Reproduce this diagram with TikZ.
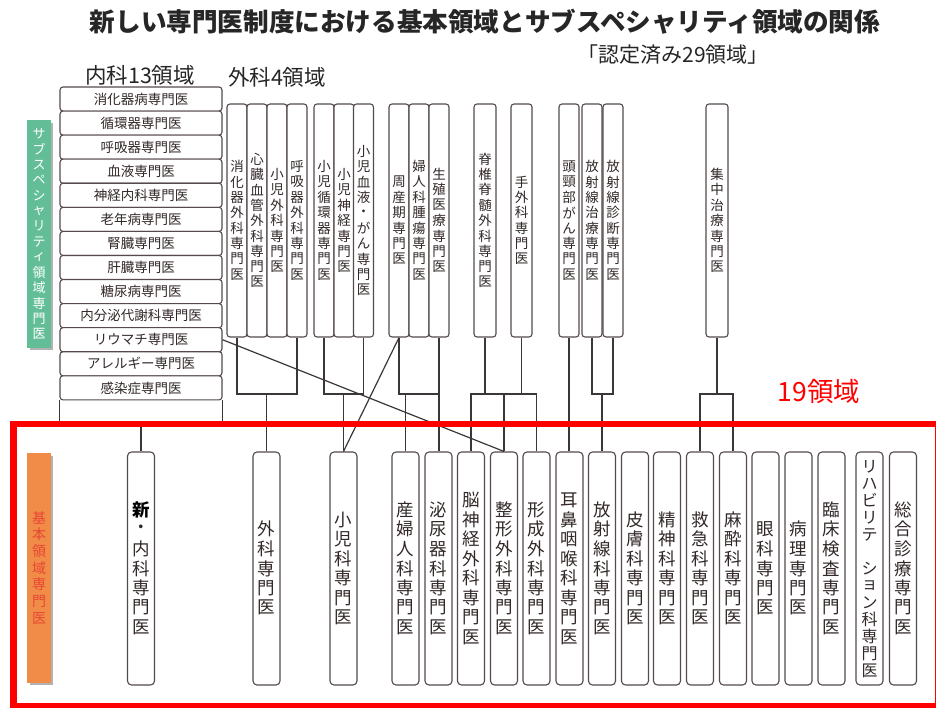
\documentclass[tikz,border=0pt]{standalone}
\usepackage{fontspec}
\setmainfont{Noto Sans CJK JP}
\definecolor{linec}{RGB}{60,55,55}
\definecolor{boxc}{RGB}{85,75,75}
\definecolor{txt}{RGB}{50,40,40}
\definecolor{subgreen}{RGB}{99,190,152}
\definecolor{baseorange}{RGB}{240,140,72}
\definecolor{basered}{RGB}{232,70,50}
\definecolor{framered}{RGB}{255,0,0}
\makeatletter
\newlength\vt@pitch
\def\vt@stop{\vt@stop}
\newcommand\vt[2][15.4pt]{\vbox{\offinterlineskip\setlength\vt@pitch{#1}\vt@loop#2\vt@stop}}
\def\vt@loop#1{%
  \ifx#1\vt@stop\else
    \hbox to 1em{\hss\vbox to\vt@pitch{\vss\hbox{#1}\vss}\hss}%
    \expandafter\vt@loop
  \fi}
\makeatother
\begin{document}
\begin{tikzpicture}[x=1pt,y=-1pt,
  conn/.style={draw=linec, line width=1.2pt},
  rowbox/.style={draw=boxc, line width=1.1pt, rounded corners=3pt, fill=white, minimum width=162pt, minimum height=24.1pt, inner sep=0pt, text=txt, font=\fontsize{13.5}{14}\selectfont},
  topbox/.style={draw=boxc, line width=1.1pt, rounded corners=3pt, fill=white, minimum width=20pt, minimum height=233pt, inner sep=0pt, text=txt, font=\fontsize{13.5}{14}\selectfont},
  botbox/.style={draw=boxc, line width=1.1pt, rounded corners=4pt, fill=white, minimum width=27pt, minimum height=233pt, inner sep=0pt, text=txt, font=\fontsize{17.5}{18}\selectfont},
  lab/.style={inner sep=0pt, text=black!85, font=\fontsize{21.5}{23}\selectfont}
]
\useasboundingbox (0,0) rectangle (936,708);
\fill[white] (0,0) rectangle (936,708);

% titles
\node[inner sep=0pt, text=black!85, font=\fontsize{25.6}{27}\selectfont\bfseries] (title) at (485,22) {新しい専門医制度における基本領域とサブスペシャリティ領域の関係};
\node[lab, font=\fontsize{21}{23}\selectfont] (nintei) at (673,55) {「認定済み29領域」};
\node[lab] (naika) at (140,75) {内科13領域};
\node[lab] (geka) at (277,77) {外科4領域};
\node[inner sep=0pt, text=framered, font=\fontsize{26.5}{28}\selectfont] (n19) at (819,391) {19領域};

% side labels
\fill[black!30] (30,123) rectangle (53,350);
\node[fill=subgreen, minimum width=24pt, minimum height=228pt, inner sep=0pt, text=white, font=\fontsize{13}{14}\selectfont] (sublab) at (39,234) {\vt[15.4pt]{サブスペシャリティ領域専門医}};
\fill[black!30] (30,456) rectangle (53,685);
\node[fill=baseorange, minimum width=24pt, minimum height=230pt, inner sep=0pt, text=basered, font=\fontsize{14}{15}\selectfont] (baselab) at (39,568) {\vt[16.7pt]{基本領域専門医}};

\coordinate (Y) at (0,394);
\coordinate (R) at (0,424);

% left list rows
\foreach \i/\t in {1/消化器病専門医,2/循環器専門医,3/呼吸器専門医,4/血液専門医,5/神経内科専門医,6/老年病専門医,7/腎臓専門医,8/肝臓専門医,9/糖尿病専門医,10/内分泌代謝科専門医,11/リウマチ専門医,12/アレルギー専門医,13/感染症専門医}
  \node[rowbox] (r\i) at (141,{87+24.07*(\i-0.5)}) {\t};

% top boxes
\newcommand\tb[4][20pt]{\node[topbox, minimum width=#1] (#2) at (#3,220.5) {\vt[15.4pt]{#4}};}
\tb{t1}{237}{消化器外科専門医}
\tb{t2}{257}{心臓血管外科専門医}
\tb{t3}{277}{小児外科専門医}
\tb{t4}{297}{呼吸器外科専門医}
\tb{t5}{324}{小児循環器専門医}
\tb{t6}{344}{小児神経専門医}
\tb{t7}{363.5}{小児血液・がん専門医}
\tb{t8}{399}{周産期専門医}
\tb{t9}{419}{婦人科腫瘍専門医}
\tb{t10}{439}{生殖医療専門医}
\tb[22pt]{t11}{485}{脊椎脊髄外科専門医}
\tb[21pt]{t12}{521.5}{手外科専門医}
\tb{t13}{569}{頭頸部がん専門医}
\tb{t14}{592}{放射線治療専門医}
\tb{t15}{613}{放射線診断専門医}
\tb[22pt]{t16}{717}{集中治療専門医}

% bottom boxes
\newcommand\bb[3]{\node[botbox] (#1) at (#2,568.5) {\vt[19.6pt]{#3}};}
\bb{b1}{141}{{\bfseries\color{black}新}・内科専門医}
\bb{b2}{266.5}{外科専門医}
\bb{b3}{343.5}{小児科専門医}
\bb{b4}{405.5}{産婦人科専門医}
\bb{b5}{438.5}{泌尿器科専門医}
\bb{b6}{471}{脳神経外科専門医}
\bb{b7}{504}{整形外科専門医}
\bb{b8}{536.5}{形成外科専門医}
\bb{b9}{569.5}{耳鼻咽喉科専門医}
\bb{b10}{602}{放射線科専門医}
\bb{b11}{635}{皮膚科専門医}
\bb{b12}{667}{精神科専門医}
\bb{b13}{700}{救急科専門医}
\bb{b14}{733}{麻酔科専門医}
\bb{b15}{765.5}{眼科専門医}
\bb{b16}{798.5}{病理専門医}
\bb{b17}{831.5}{臨床検査専門医}
\node[botbox, font=\fontsize{16}{17}\selectfont] (b18) at (869.5,568.5) {\vt[17pt]{リハビリテ　ション科専門医}};
\bb{b19}{903}{総合診療専門医}

% connectors
\draw[conn] (r13.south west) -- (r13.south west |- R);
\draw[conn] (r13.south east) -- (r13.south east |- R);
\draw[conn] (b1.north |- R) -- (b1.north);
\draw[conn] (t1.south) |- (t4.south |- Y) -- (t4.south);
\draw[conn] (b2.north |- Y) -- (b2.north);
\draw[conn] (t5.south) |- (t7.south |- Y) -- (t7.south);
\draw[conn] (b3.north |- Y) -- (b3.north);
\draw[conn] (t8.south) |- (t10.south |- Y);
\draw[conn] (t10.south) -- (t10.south |- b5.north);
\draw[conn] (b4.north |- Y) -- (b4.north);
\draw[conn] (t8.south) -- (b3.north);
\draw[conn] (r11.east) -- (b7.north);
\draw[conn] (t11.south) -- (t11.south |- Y);
\draw[conn] (t12.south) -- (t12.south |- Y);
\draw[conn] (b6.north) |- (b8.north |- Y) -- (b8.north);
\draw[conn] (b7.north |- Y) -- (b7.north);
\draw[conn] (t13.south) -- (t13.south |- b9.north);
\draw[conn] (t14.south) |- (t15.south |- Y) -- (t15.south);
\draw[conn] (b10.north |- Y) -- (b10.north);
\draw[conn] (t16.south) -- (t16.south |- Y);
\draw[conn] (b13.north) |- (b14.north |- Y) -- (b14.north);

% red frame
\draw[framered, line width=6.5pt] (13.3,424) rectangle (938.5,706.5);
\end{tikzpicture}
\end{document}
